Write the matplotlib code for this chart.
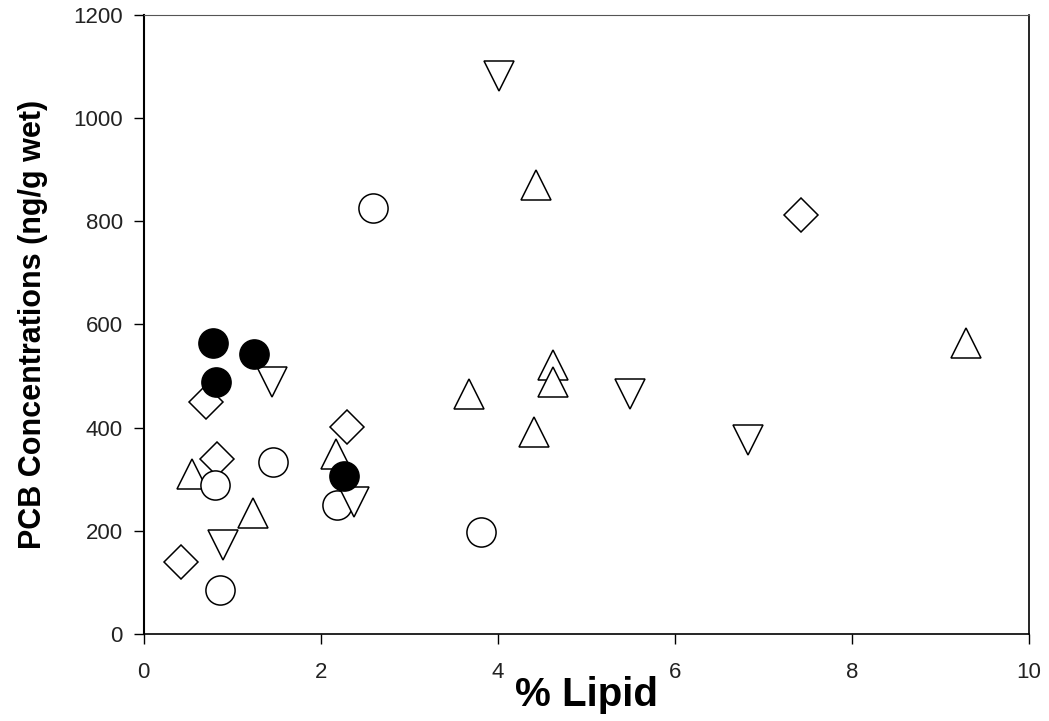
import numpy as np
import matplotlib.pyplot as plt

plt.rcParams['font.family'] = ['Liberation Sans', 'DejaVu Sans']

# filled circles
filled_x = [0.78, 1.25, 0.82, 2.26]
filled_y = [564, 543, 488, 306]

# open circles
circle_x = [1.46, 0.80, 2.18, 0.86, 2.59, 3.81]
circle_y = [333, 289, 250, 85, 826, 198]

# diamonds
diamond_x = [0.70, 0.83, 2.30, 0.42, 7.42]
diamond_y = [450, 339, 401, 140, 812]

# up triangles
up_x = [0.54, 2.17, 1.24, 4.43, 4.62, 4.62, 3.67, 4.41, 9.29]
up_y = [310, 349, 234, 870, 521, 489, 465, 391, 564]

# down triangles
down_x = [1.45, 0.90, 2.38, 4.01, 5.49, 6.82]
down_y = [488, 172, 256, 1081, 465, 376]

x_ticks = [0, 2, 4, 6, 8, 10]
y_ticks = [0, 200, 400, 600, 800, 1000, 1200]

fig = plt.figure(figsize=(10.49, 7.21), dpi=100)
ax = fig.add_axes([0.137, 0.121, 0.844, 0.858])

ms = 21
ax.plot(up_x, up_y, '^', ms=ms, mfc='white', mec='black', mew=1.1, ls='none')
ax.plot(diamond_x, diamond_y, 'D', ms=17, mfc='white', mec='black', mew=1.1, ls='none')
ax.plot(circle_x, circle_y, 'o', ms=ms, mfc='white', mec='black', mew=1.1, ls='none')
ax.plot(down_x, down_y, 'v', ms=ms, mfc='white', mec='black', mew=1.1, ls='none')
ax.plot(filled_x, filled_y, 'o', ms=ms, mfc='black', mec='black', mew=1.1, ls='none')

ax.set_xlim(0, 10)
ax.set_ylim(0, 1200)
ax.set_xticks(x_ticks)
ax.set_yticks(y_ticks)
ax.set_xticklabels([str(v) for v in x_ticks], fontsize=16, color='#222222')
ax.set_yticklabels([str(v) for v in y_ticks], fontsize=16, color='#222222')
ax.tick_params(axis='y', direction='out', length=7, width=1, pad=8)
ax.tick_params(axis='x', direction='out', length=7, width=1, pad=13)

ax.spines['left'].set_linewidth(1.5)
ax.spines['bottom'].set_linewidth(1.2)
ax.spines['top'].set_linewidth(0.8)
ax.spines['top'].set_color('#555555')
ax.spines['right'].set_linewidth(1.2)

ax.set_xlabel('% Lipid', fontsize=29, fontweight='bold', labelpad=-5)
ax.set_ylabel('PCB Concentrations (ng/g wet)', fontsize=22, fontweight='bold', labelpad=18)

plt.savefig('out.png', dpi=100)
